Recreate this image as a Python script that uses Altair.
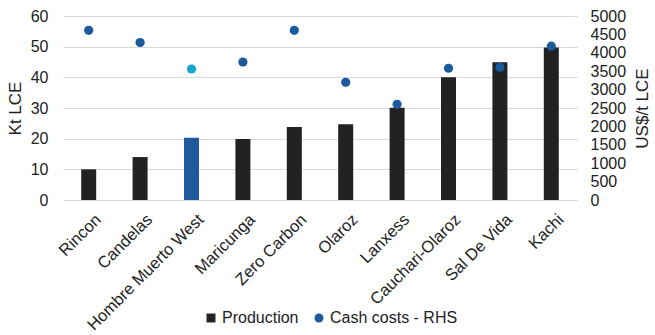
import altair as alt
import pandas as pd

projects = ["Rincon", "Candelas", "Hombre Muerto West", "Maricunga", "Zero Carbon",
            "Olaroz", "Lanxess", "Cauchari-Olaroz", "Sal De Vida", "Kachi"]
production = [10.0, 14.0, 20.3, 19.9, 23.8, 24.7, 30.1, 40.0, 44.9, 49.7]
cash_costs = [4610, 4280, 3560, 3750, 4610, 3200, 2600, 3580, 3610, 4180]
highlight = "Hombre Muerto West"
legend_domain = ["Production", "Cash costs - RHS"]
left_ticks = [0, 10, 20, 30, 40, 50, 60]
right_ticks = [0, 500, 1000, 1500, 2000, 2500, 3000, 3500, 4000, 4500, 5000]

df = pd.DataFrame({"Project": projects, "Production": production, "Cash": cash_costs})

font = "Liberation Sans"
text_color = "#222222"
color_scale = alt.Scale(domain=legend_domain, range=["#222222", "#1B5A9C"])
shape_scale = alt.Scale(domain=legend_domain, range=["square", "circle"])

x_enc = alt.X(
    "Project:N", sort=projects,
    scale=alt.Scale(paddingInner=0, paddingOuter=0),
    axis=alt.Axis(title=None, labelAngle=-45, labelAlign="right", labelBaseline="top",
                  ticks=False, domain=False, labelPadding=11, labelOffset=4,
                  labelFontSize=16.5),
)

base = alt.Chart(df)

bars = base.transform_calculate(series="'Production'").mark_bar(size=15).encode(
    x=x_enc,
    y=alt.Y("Production:Q", scale=alt.Scale(domain=[0, 60]),
            axis=alt.Axis(values=left_ticks, title="Kt LCE", grid=True, ticks=False,
                          domain=False, labelPadding=15, titlePadding=6)),
    color=alt.condition(alt.datum.Project == highlight, alt.value("#1F5A9E"),
                        alt.Color("series:N", scale=color_scale, title=None)),
)

points = base.transform_calculate(series="'Cash costs - RHS'").mark_point(
    filled=True, size=85, opacity=1
).encode(
    x=x_enc,
    y=alt.Y("Cash:Q", scale=alt.Scale(domain=[0, 5000]),
            axis=alt.Axis(values=right_ticks, orient="right", title="US$/t LCE", grid=False,
                          ticks=False, domain=False, labelPadding=13, titlePadding=9,
                          titleAngle=270, titleBaseline="top", format="d")),
    color=alt.condition(alt.datum.Project == highlight, alt.value("#12A6CD"),
                        alt.Color("series:N", scale=color_scale, title=None)),
    shape=alt.Shape("series:N", scale=shape_scale, title=None),
)

chart = alt.layer(bars, points).resolve_scale(y="independent").properties(
    width=514, height=184,
    autosize=alt.AutoSizeParams(type="none"),
    padding={"left": 63, "top": 16, "right": 78, "bottom": 135},
).configure_view(stroke=None).configure_axis(
    labelFont=font, titleFont=font, labelColor=text_color, titleColor=text_color,
    labelFontSize=16, titleFontSize=17, titleFontWeight="normal",
    gridColor="#d9d9d9", gridWidth=1,
).configure_legend(
    orient="none", legendX=140, legendY=294, direction="horizontal",
    labelFont=font, labelFontSize=16, labelColor=text_color,
    symbolSize=80, symbolStrokeWidth=0, labelOffset=3, columnPadding=12, padding=0,
)

chart.save("out.html", embed_options={"renderer": "svg", "actions": False})
